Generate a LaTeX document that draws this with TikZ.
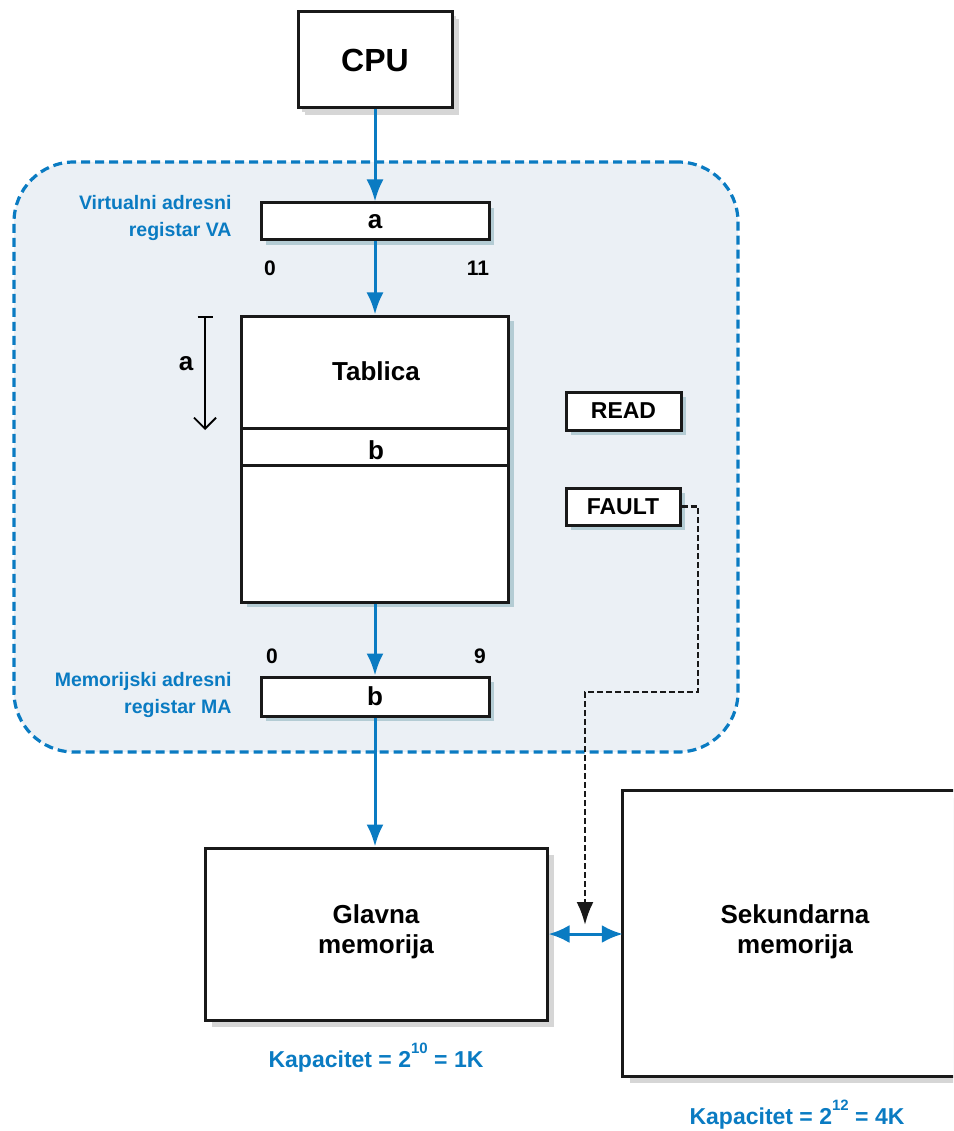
\documentclass[tikz,border=0pt]{standalone}
\usepackage{fontspec}
\setmainfont{Liberation Sans}
\usetikzlibrary{arrows.meta,shadows}
\definecolor{myblue}{HTML}{0A7BC2}
\definecolor{regionfill}{HTML}{EBF0F5}
\definecolor{shgray}{HTML}{D6D6D6}
\definecolor{shblue}{HTML}{B4CCD4}
\newcommand{\mysup}[1]{\raisebox{0.62em}{\fontsize{15}{15}\selectfont #1}}
\begin{document}
\begin{tikzpicture}[x=1pt,y=-1pt,
  bigbox/.style={draw=black!90, line width=3pt, fill=white, inner sep=0pt,
    drop shadow={shadow xshift=7pt,shadow yshift=-7pt,fill=shgray,opacity=1}},
  regbox/.style={draw=black!90, line width=3pt, fill=white, inner sep=0pt,
    drop shadow={shadow xshift=5pt,shadow yshift=-5pt,fill=shblue,opacity=1}},
  bluelabel/.style={text=myblue, font=\fontsize{19.5}{27}\selectfont\bfseries, align=right, anchor=east},
  numlabel/.style={font=\fontsize{21}{24}\selectfont\bfseries},
  bigtext/.style={font=\fontsize{26}{30}\selectfont\bfseries, align=center},
  bluearrow/.style={draw=myblue, line width=3pt, -{Latex[length=22pt,width=17pt]}},
  bluedouble/.style={draw=myblue, line width=3pt, {Latex[length=21pt,width=18pt]}-{Latex[length=21pt,width=18pt]}},
  faultline/.style={draw=black!90, line width=2.6pt, dash pattern=on 6pt off 3pt, -{Latex[length=23pt,width=17pt]}},
  captext/.style={text=myblue, font=\fontsize{23}{26}\selectfont\bfseries}
]
\useasboundingbox (0,0) rectangle (953,1131);
\clip (0,0) rectangle (953,1131);

% region
\node[draw=myblue, fill=regionfill, line width=3.2pt, dash pattern=on 9pt off 5pt,
  rounded corners=60pt, minimum width=724pt, minimum height=590pt, inner sep=0pt]
  (region) at (376,457) {};

% CPU
\node[bigbox, minimum width=154pt, minimum height=96pt,
  drop shadow={shadow xshift=4pt,shadow yshift=-4pt,fill=shgray,opacity=1},
  font=\fontsize{32}{36}\selectfont\bfseries] (cpu) at (375,60) {CPU};

% VA register
\node[regbox, minimum width=228pt, minimum height=37pt,
  font=\fontsize{26}{28}\selectfont\bfseries] (va) at (375,221.5) {a};
\node[bluelabel] (valab) at (235,218) {Virtualni adresni\\registar VA};
\node[numlabel] (va0) at (270,268) {0};
\node[numlabel] (va11) at (478,268) {11};

% Tablica
\node[regbox, minimum width=267pt, minimum height=286pt] (tab) at (375,459) {};
\draw[line width=3pt, draw=black!90] (tab.north west) ++(0,114) -- ++(267,0);
\draw[line width=3pt, draw=black!90] (tab.north west) ++(0,151) -- ++(267,0);
\node[bigtext] (tabtxt) at (376,371) {Tablica};
\node[bigtext] (tabb) at (376,450) {b};

% a index arrow
\coordinate (atop) at (205,316);
\coordinate (abot) at (205,430);
\draw[line width=1.8pt, {Bar[width=15pt]}-{Straight Barb[length=11pt,width=22pt,line width=1.8pt]}] (atop) -- (abot);
\node[bigtext] (alab) at (186,364) {a};

% READ / FAULT
\node[regbox, minimum width=115pt, minimum height=38pt,
  font=\fontsize{23}{26}\selectfont\bfseries] (read) at (623.5,411) {READ};
\node[regbox, minimum width=114pt, minimum height=37pt,
  font=\fontsize{23}{26}\selectfont\bfseries] (fault) at (623,506.5) {FAULT};

% MA register
\node[regbox, minimum width=228pt, minimum height=39pt,
  font=\fontsize{26}{28}\selectfont\bfseries] (ma) at (375,696.5) {b};
\node[bluelabel] (malab) at (235,695) {Memorijski adresni\\registar MA};
\node[numlabel] (ma0) at (272,656) {0};
\node[numlabel] (ma9) at (480,656) {9};

% memories
\node[bigbox, minimum width=342pt, minimum height=172pt] (glavna) at (376,934) {};
\node[bigtext] (glavnatxt) at (376,932) {Glavna\\memorija};
\node[fill=white, draw=none, inner sep=0pt, minimum width=600pt, minimum height=285pt,
  drop shadow={shadow xshift=7pt,shadow yshift=-7pt,fill=shgray,opacity=1}] (sek) at (923,933.5) {};
\draw[line width=3pt, draw=black!90] (sek.north east) -- (sek.north west) -- (sek.south west) -- (sek.south east);
\node[bigtext] (sektxt) at (795,932) {Sekundarna\\memorija};

\node[captext] (cap1) at (376,1058) {Kapacitet = 2\mysup{10} = 1K};
\node[captext] (cap2) at (797,1115) {Kapacitet = 2\mysup{12} = 4K};

% connectors
\draw[bluearrow] (cpu.south) -- (va.north);
\draw[bluearrow] (va.south) -- (tab.north);
\draw[bluearrow] (tab.south) -- (ma.north);
\draw[bluearrow] (ma.south) -- (glavna.north -| ma.south);
\draw[bluedouble] (glavna.east) -- (glavna.east -| sek.west);

\coordinate (f2) at (698,692);
\coordinate (f3) at (585,692);
\coordinate (f4) at (585,925);
\draw[faultline] (fault.east) -| (f2) -- (f3) -- (f4);
\end{tikzpicture}
\end{document}
